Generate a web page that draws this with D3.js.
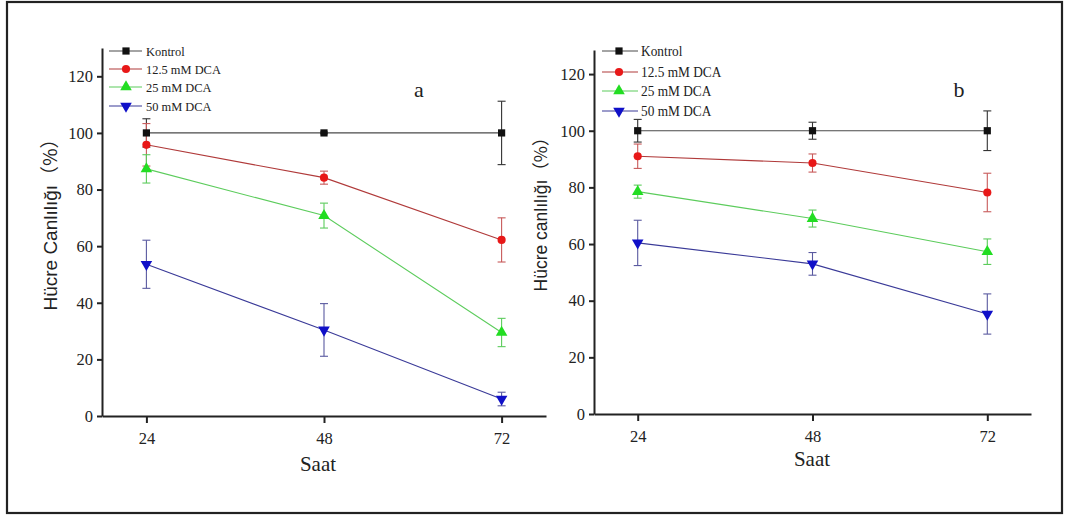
<!DOCTYPE html>
<html><head><meta charset="utf-8">
<script src="https://cdn.jsdelivr.net/npm/d3@7"></script>
<style>body{margin:0;background:#fff} svg{display:block}
.serif{font-family:"Liberation Serif","Times New Roman",serif !important}
.sans{font-family:"Liberation Sans",Arial,sans-serif}
.cjk{font-family:"Noto Sans CJK SC",sans-serif}
</style>
</head><body><svg id="c" width="1066" height="515"></svg>
<script>
// ---------- data ----------
const hours = [24, 48, 72];
const seriesNames = ["Kontrol", "12.5 mM DCA", "25 mM DCA", "50 mM DCA"];
const yTicks = [0, 20, 40, 60, 80, 100, 120];
const panelLabels = ["a", "b"];
const yTitleWords = ["Hücre Canlılığı", "Hücre canlılığı"];
const yTitleUnit = "（%）";
const xTitle = "Saat";

// panel a
const aKontrol = [100, 100, 100];
const aKontrolErr = [5, 0.3, 11.2];
const aDCA125 = [95.8, 84.2, 62.2];
const aDCA125Err = [7.5, 2.3, 7.8];
const aDCA25 = [87.3, 70.8, 29.5];
const aDCA25Err = [5, 4.4, 5];
const aDCA50 = [53.6, 30.4, 6];
const aDCA50Err = [8.5, 9.3, 2.4];

// panel b
const bKontrol = [100, 100, 100];
const bKontrolErr = [4, 3, 7];
const bDCA125 = [91, 88.6, 78.2];
const bDCA125Err = [4.3, 3.2, 6.8];
const bDCA25 = [78.5, 69, 57.3];
const bDCA25Err = [2.3, 3, 4.5];
const bDCA50 = [60.4, 53, 35.3];
const bDCA50Err = [8, 4, 7.1];

// ---------- styles ----------
const lineColors = ["#4a4a4a", "#b03a3a", "#5ccc5c", "#3a3a98"];
const markerColors = ["#111111", "#e81818", "#22dd22", "#1010c8"];
const errColors = ["#333333", "#c85a5a", "#5ccc5c", "#5a5aa0"];

const symGen = [
  d3.symbol().type(d3.symbolSquare).size(52)(),
  d3.symbol().type(d3.symbolCircle).size(52)(),
  d3.symbol().type(d3.symbolTriangle).size(58)(),
  d3.symbol().type(d3.symbolTriangle).size(58)()
];
const symRot = [0, 0, 0, 180];

const panels = [
  { vals: [aKontrol, aDCA125, aDCA25, aDCA50], errs: [aKontrolErr, aDCA125Err, aDCA25Err, aDCA50Err],
    x0: 102, x1: 546, y0: 416, y1: 48, yMax: 130,
    leg: { lx0: 109, lx1: 142, mx: 126, tx: 146, rows: [51, 69, 87, 106], fs: 13.5 },
    lab: { x: 419, y: 97 }, yt: { x: 57, y: 220, fs: 19 }, xt: { x: 318, y: 471 } },
  { vals: [bKontrol, bDCA125, bDCA25, bDCA50], errs: [bKontrolErr, bDCA125Err, bDCA25Err, bDCA50Err],
    x0: 594, x1: 1031, y0: 414, y1: 50, yMax: 128.5,
    leg: { lx0: 602, lx1: 638, mx: 619, tx: 641, rows: [51, 72, 91, 111], fs: 14.5 },
    lab: { x: 959, y: 97 }, yt: { x: 547, y: 210, fs: 17.5 }, xt: { x: 812, y: 466 } }
];

const svg = d3.select("#c");
svg.append("rect").attr("x", 7).attr("y", 2).attr("width", 1055).attr("height", 511)
  .attr("fill", "none").attr("stroke", "#222").attr("stroke-width", 2.2);

panels.forEach((p, pi) => {
  const x = d3.scaleLinear().domain([18, 78]).range([p.x0, p.x1]);
  const y = d3.scaleLinear().domain([0, p.yMax]).range([p.y0, p.y1]);
  const g = svg.append("g");

  // axes
  const ya = g.append("g").attr("transform", `translate(${p.x0},0)`)
    .call(d3.axisLeft(y).tickValues(yTicks).tickSize(5).tickSizeOuter(0).tickPadding(4).tickFormat(d3.format("d")));
  const xa = g.append("g").attr("transform", `translate(0,${p.y0})`)
    .call(d3.axisBottom(x).tickValues(hours).tickSize(7).tickSizeOuter(0).tickPadding(9).tickFormat(d3.format("d")));
  [ya, xa].forEach(a => {
    a.attr("font-family", null).attr("font-size", null);
    a.select(".domain").attr("stroke", "#222").attr("stroke-width", 2);
    a.selectAll(".tick line").attr("stroke", "#222").attr("stroke-width", 2);
    a.selectAll(".tick text").attr("class", "serif").style("font-size", "16.5px").attr("fill", "#222");
  });

  const line = d3.line().x((d, i) => x(hours[i])).y(d => y(d));
  // lines
  p.vals.forEach((v, si) => {
    g.append("path").attr("d", line(v)).attr("fill", "none")
      .attr("stroke", lineColors[si]).attr("stroke-width", 1.1);
  });
  // error bars
  p.vals.forEach((v, si) => {
    const eg = g.append("g").attr("stroke", errColors[si]).attr("stroke-width", 1.1).attr("fill", "none");
    v.forEach((val, i) => {
      const e = p.errs[si][i];
      const cx = x(hours[i]);
      eg.append("line").attr("x1", cx).attr("x2", cx).attr("y1", y(val + e)).attr("y2", y(val - e));
      [val + e, val - e].forEach(t => eg.append("line")
        .attr("x1", cx - 4).attr("x2", cx + 4).attr("y1", y(t)).attr("y2", y(t)));
    });
  });
  // markers
  p.vals.forEach((v, si) => {
    g.selectAll(null).data(v).enter().append("path")
      .attr("d", symGen[si])
      .attr("transform", (d, i) => `translate(${x(hours[i])},${y(d)}) rotate(${symRot[si]})`)
      .attr("fill", markerColors[si]);
  });

  // legend
  seriesNames.forEach((name, si) => {
    const ry = p.leg.rows[si];
    g.append("line").attr("x1", p.leg.lx0).attr("x2", p.leg.lx1).attr("y1", ry).attr("y2", ry)
      .attr("stroke", lineColors[si]).attr("stroke-width", 1.1);
    g.append("path").attr("d", symGen[si])
      .attr("transform", `translate(${p.leg.mx},${ry}) rotate(${symRot[si]})`)
      .attr("fill", markerColors[si]);
    g.append("text").attr("class", "serif").attr("transform", `translate(${p.leg.tx},${ry + 5}) scale(0.92,1)`)
      .style("font-size", p.leg.fs + "px").attr("fill", "#222").text(name);
  });

  // panel label
  g.append("text").attr("class", "serif").attr("x", p.lab.x).attr("y", p.lab.y).attr("text-anchor", "middle")
    .style("font-size", "22px").attr("fill", "#222").text(panelLabels[pi]);
  // axis titles
  g.append("text").attr("class", "serif").attr("x", p.xt.x).attr("y", p.xt.y).attr("text-anchor", "middle")
    .style("font-size", "21px").attr("fill", "#222").text(xTitle);
  const yt = g.append("text").attr("class", "sans").attr("transform", `translate(${p.yt.x},${p.yt.y}) rotate(-90)`)
    .attr("text-anchor", "middle").style("font-size", p.yt.fs + "px").attr("fill", "#222");
  yt.append("tspan").text(yTitleWords[pi]);
  yt.append("tspan").attr("class", "cjk").text(yTitleUnit);
});
</script></body></html>
